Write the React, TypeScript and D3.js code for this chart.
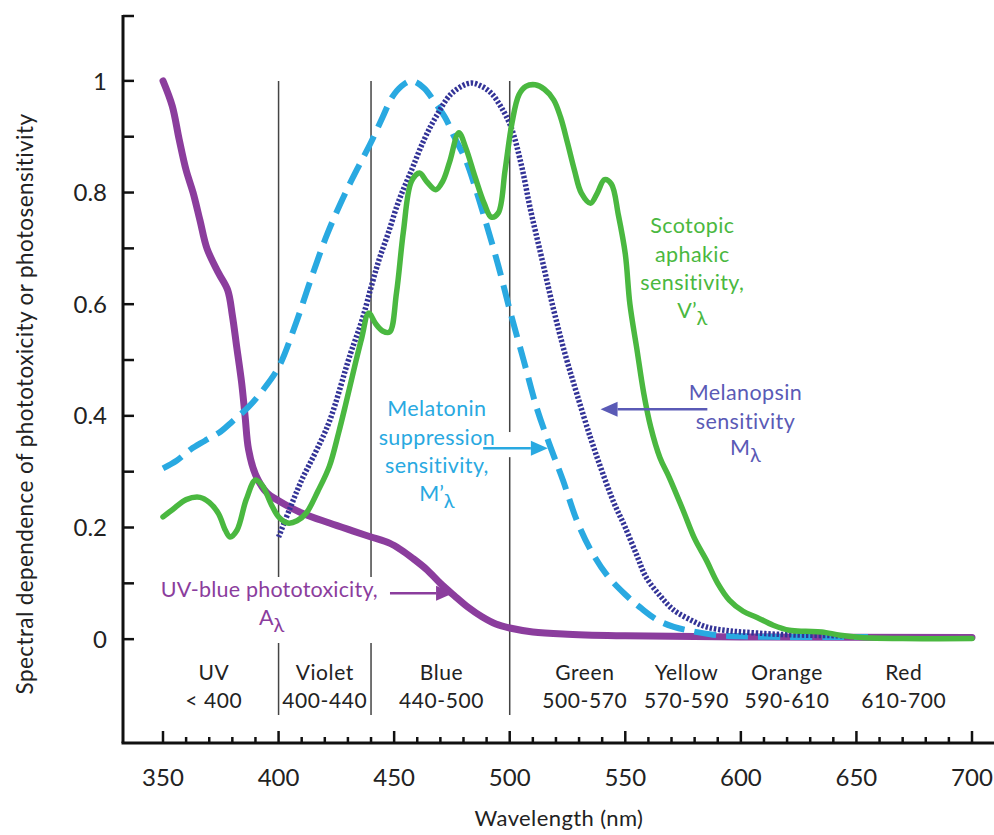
import React from 'react';
import * as d3 from 'd3';

const width = 994;
const height = 835;
const font = 'Lato, "Open Sans", sans-serif';

// [wavelength nm, relative value]
const phototoxicity: [number, number][] = [
  [350, 1.0], [354, 0.955], [357, 0.895], [360, 0.84], [363, 0.8], [366, 0.75], [369, 0.7],
  [374, 0.656], [378, 0.625], [380, 0.58], [382, 0.52], [384, 0.46], [385.5, 0.4], [387, 0.34],
  [390, 0.295], [395, 0.262], [400, 0.248], [410, 0.226], [422, 0.208], [432, 0.194],
  [440, 0.183], [448, 0.172], [453, 0.16], [458, 0.145], [464, 0.125], [470, 0.1],
  [476, 0.078], [482, 0.057], [488, 0.04], [494, 0.027], [500, 0.02], [510, 0.013],
  [525, 0.009], [550, 0.006], [600, 0.004], [700, 0.003],
];

const melatonin: [number, number][] = [
  [350, 0.306], [356, 0.32], [362, 0.34], [368, 0.355], [375, 0.372], [380, 0.39],
  [387, 0.416], [393, 0.445], [400, 0.487], [407, 0.56], [414, 0.645], [421, 0.725],
  [429, 0.8], [435, 0.85], [440, 0.89], [445, 0.935], [449, 0.97], [453, 0.99],
  [457.5, 1.0], [463, 0.987], [467, 0.965], [472, 0.935], [476, 0.9], [481, 0.858],
  [485, 0.81], [489, 0.756], [495, 0.67], [500, 0.59], [506, 0.5], [512, 0.41],
  [518, 0.34], [523, 0.285], [529, 0.213], [535, 0.16], [542, 0.115], [550, 0.08],
  [557, 0.055], [564, 0.034], [571, 0.022], [578, 0.015], [588, 0.008], [600, 0.005],
  [620, 0.004], [640, 0.004], [655, 0.004],
];

const melanopsin: [number, number][] = [
  [400, 0.183], [405, 0.235], [410, 0.285], [416, 0.335], [422, 0.39], [431, 0.51],
  [436, 0.57], [440, 0.63], [443.5, 0.68], [447.5, 0.728], [452, 0.785], [457.5, 0.84],
  [463, 0.895], [468, 0.935], [475, 0.978], [483, 0.996], [488, 0.99], [492, 0.978],
  [496, 0.955], [500.5, 0.918], [505, 0.85], [509, 0.769], [514, 0.68], [519, 0.59],
  [524, 0.51], [529, 0.44], [535, 0.36], [540, 0.3], [545, 0.245], [550, 0.2],
  [555, 0.15], [559, 0.111], [565, 0.078], [571, 0.052], [578, 0.035], [585, 0.022],
  [595, 0.015], [607, 0.011], [620, 0.008], [645, 0.006],
];

const scotopic: [number, number][] = [
  [350, 0.219], [355, 0.235], [360, 0.25], [366, 0.254], [370, 0.245], [374, 0.225],
  [377, 0.195], [379, 0.183], [382, 0.195], [386, 0.25], [390, 0.285], [393, 0.275],
  [397, 0.24], [400, 0.219], [404, 0.208], [408, 0.212], [412, 0.226], [417, 0.265],
  [422, 0.31], [426, 0.37], [429, 0.42], [433, 0.49], [436, 0.54], [439, 0.584],
  [442, 0.565], [445, 0.552], [448, 0.55], [451, 0.62], [454, 0.73], [457.5, 0.82],
  [461, 0.835], [464, 0.82], [468, 0.805], [471, 0.82], [474, 0.855], [478, 0.907],
  [481, 0.88], [485, 0.828], [489, 0.78], [492, 0.756], [495, 0.763], [498, 0.84],
  [501, 0.925], [504, 0.975], [507, 0.99], [511, 0.993], [515, 0.985], [519, 0.966],
  [522, 0.935], [525, 0.889], [528, 0.84], [531, 0.799], [535, 0.781], [538, 0.8],
  [541, 0.823], [544, 0.815], [547, 0.76], [550, 0.69], [552, 0.6], [555, 0.52],
  [558, 0.44], [561, 0.38], [565, 0.325], [569, 0.29], [575, 0.231], [580, 0.18],
  [585, 0.142], [590, 0.1], [595, 0.07], [601, 0.05], [607, 0.039], [614, 0.025],
  [621, 0.016], [628, 0.014], [635, 0.013], [643, 0.007], [652, 0.003], [670, 0.001],
  [700, 0.001],
];

const bandDividers = [400, 440, 500];
const bandNames = ['UV', 'Violet', 'Blue', 'Green', 'Yellow', 'Orange', 'Red'];
const bandRanges = ['< 400', '400-440', '440-500', '500-570', '570-590', '590-610', '610-700'];
const bandLabelWl = [372, 420, 470.5, 532.5, 576.5, 620, 670.5];

const yTickLabels = [0, 0.2, 0.4, 0.6, 0.8, 1];

const colors = {
  purple: '#8b3d9d',
  green: '#4ab840',
  cyan: '#29a9e1',
  navy: '#333397',
  slate: '#5a5ab6',
};

const x = d3.scaleLinear().domain([350, 700]).range([163, 972]);
const y = d3.scaleLinear().domain([-0.186, 1.118]).range([743, 15]);

const line = d3
  .line<[number, number]>()
  .x(d => x(d[0]))
  .y(d => y(d[1]))
  .curve(d3.curveCatmullRom.alpha(0.5));

const Arrow = ({ from, to, color }: { from: [number, number]; to: [number, number]; color: string }) => {
  const x0 = x(from[0]), x1 = x(to[0]), yy = y(from[1]);
  const dir = Math.sign(x1 - x0);
  const head = 17;
  return (
    <g>
      <line x1={x0} y1={yy} x2={x1 - dir * head} y2={yy} stroke={color} strokeWidth={2.5} />
      <path d={`M${x1},${yy} L${x1 - dir * head},${yy - 7.5} L${x1 - dir * head},${yy + 7.5} Z`} fill={color} />
    </g>
  );
};

const annSize = 21.5;

const Label = ({ lines, cx, cy, color, lh = 28.5 }: any) => (
  <text x={cx} y={cy} fill={color} fontSize={annSize} fontFamily={font} textAnchor="middle" letterSpacing={0.4}>
    {lines.map((l: any, i: number) => (
      <tspan key={i} x={cx} dy={i === 0 ? 0 : lh}>
        {l}
      </tspan>
    ))}
  </text>
);

const Sub = ({ main, color, cx, cy }: any) => (
  <text x={cx} y={cy} fill={color} fontSize={annSize} fontFamily={font} textAnchor="middle">
    {main}
    <tspan dy={7} fontSize={20}>λ</tspan>
  </text>
);

export default function App() {
  const majorY = d3.range(0, 1.001, 0.1);
  const minorX = d3.range(350, 701, 10);
  const majorX = x.ticks(7);

  return (
    <svg width={width} height={height} style={{ position: 'absolute', left: 0, top: 0, background: '#fff' }}>
      {/* band dividers */}
      {bandDividers.map(w => (
        <line key={w} x1={x(w)} x2={x(w)} y1={y(1)} y2={y(-0.136)} stroke="#444" strokeWidth={1.5} />
      ))}

      {/* white boxes that break the divider lines under the labels */}
      <rect x={160} y={577} width={225} height={66} fill="#fff" />
      <rect x={x(480)} y={y(0.371)} width={x(534) - x(480)} height={y(0.326) - y(0.371)} fill="#fff" />

      {/* axes */}
      <line x1={123} x2={123} y1={y(1.118)} y2={y(-0.186)} stroke="#111" strokeWidth={3} />
      <line x1={121.5} x2={994} y1={y(-0.186)} y2={y(-0.186)} stroke="#111" strokeWidth={3} />
      <line x1={123} x2={134} y1={y(1.118) + 1} y2={y(1.118) + 1} stroke="#111" strokeWidth={2.5} />
      {majorY.map(v => (
        <line key={v} x1={123} x2={134} y1={y(v)} y2={y(v)} stroke="#111" strokeWidth={2.5} />
      ))}
      {yTickLabels.map(v => (
        <text key={v} x={107} y={y(v)} dy="0.36em" textAnchor="end" fontSize={24} fontFamily={font} fill="#222">
          {v}
        </text>
      ))}
      {minorX.map(w => (
        <line
          key={w}
          x1={x(w)}
          x2={x(w)}
          y1={y(-0.186)}
          y2={y(-0.186) - (w % 50 === 0 ? 12 : 6)}
          stroke="#111"
          strokeWidth={2.5}
        />
      ))}
      {majorX.map(w => (
        <text key={w} x={x(w)} y={786} textAnchor="middle" fontSize={24} fontFamily={font} fill="#222">
          {w}
        </text>
      ))}
      <text x={559} y={826} textAnchor="middle" fontSize={22} fontFamily={font} fill="#222" letterSpacing={0.4}>
        Wavelength (nm)
      </text>
      <text
        transform="translate(33,404) rotate(-90)"
        textAnchor="middle"
        fontSize={22.5}
        fontFamily={font}
        fill="#222"
        letterSpacing={0.4}
      >
        Spectral dependence of phototoxicity or photosensitivity
      </text>

      {/* band labels */}
      {bandNames.map((n, i) => (
        <text
          key={n}
          x={x(bandLabelWl[i])}
          y={680}
          textAnchor="middle"
          fontSize={21}
          fontFamily={font}
          fill="#222"
          letterSpacing={0.6}
        >
          {n}
          <tspan x={x(bandLabelWl[i])} dy={28}>
            {bandRanges[i]}
          </tspan>
        </text>
      ))}

      {/* curves */}
      <path d={line(phototoxicity) || ''} fill="none" stroke={colors.purple} strokeWidth={7} strokeLinecap="round" />
      <path d={line(melatonin) || ''} fill="none" stroke={colors.cyan} strokeWidth={6} strokeDasharray="22 10" />
      <path d={line(melanopsin) || ''} fill="none" stroke={colors.navy} strokeWidth={5.5} strokeDasharray="2.4 1.8" />
      <path d={line(scotopic) || ''} fill="none" stroke={colors.green} strokeWidth={5.5} strokeLinecap="round" />

      {/* annotations */}
      <Label lines={['Scotopic', 'aphakic', 'sensitivity,']} cx={x(579)} cy={233} color={colors.green} />
      <Sub main="V’" cx={x(579)} cy={318} color={colors.green} />

      <Label lines={['Melanopsin', 'sensitivity']} cx={x(602)} cy={400} color={colors.slate} />
      <Sub main="M" cx={x(602)} cy={455} color={colors.slate} />
      <Arrow from={[585.5, 0.412]} to={[539.3, 0.412]} color={colors.slate} />

      <Label lines={['Melatonin', 'suppression', 'sensitivity,']} cx={x(468.5)} cy={416} color={colors.cyan} />
      <Sub main="M’" cx={x(468.5)} cy={501} color={colors.cyan} />
      <Arrow from={[488.5, 0.342]} to={[516.5, 0.342]} color={colors.cyan} />

      <text
        x={x(396)}
        y={597}
        textAnchor="middle"
        fontSize={annSize}
        fontFamily={font}
        fill={colors.purple}
        letterSpacing={0.2}
      >
        UV-blue phototoxicity,
      </text>
      <Sub main="A" cx={x(397)} cy={625} color={colors.purple} />
      <Arrow from={[448.2, 0.0824]} to={[475.5, 0.0824]} color={colors.purple} />
    </svg>
  );
}
